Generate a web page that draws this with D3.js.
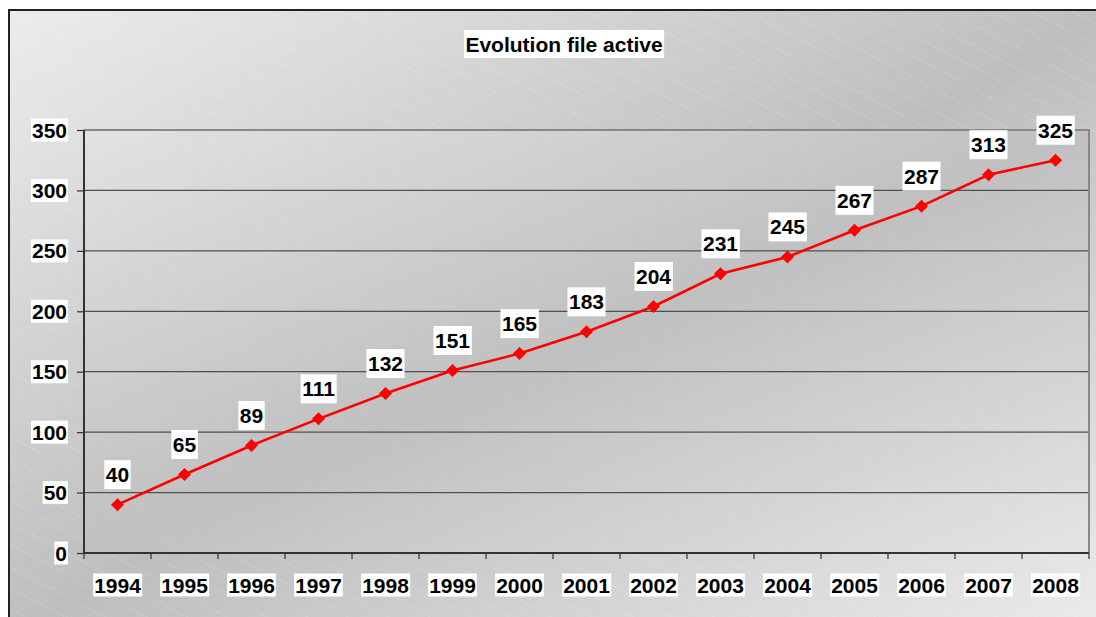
<!DOCTYPE html>
<html>
<head>
<meta charset="utf-8">
<script src="https://cdn.jsdelivr.net/npm/d3@7"></script>
<style>
  html, body { margin: 0; padding: 0; background: #ffffff; }
  svg { display: block; }
  text { font-family: "Liberation Sans", Arial, sans-serif; font-weight: bold; fill: #000; }
</style>
</head>
<body>
<svg id="chart" width="1096" height="617"></svg>
<script>
// Active files per year
const years = ['1994','1995','1996','1997','1998','1999','2000','2001','2002','2003','2004','2005','2006','2007','2008'];
const activeFiles = [40, 65, 89, 111, 132, 151, 165, 183, 204, 231, 245, 267, 287, 313, 325];
const yTickValues = [0, 50, 100, 150, 200, 250, 300, 350];
const chartTitle = 'Evolution file active';

const svg = d3.select('#chart');
const W = 1096, H = 617;
const plot = { left: 84, top: 130, right: 1089, bottom: 553 };

const defs = svg.append('defs');

// Diagonal grey gradients (light corners, darker middle band)
function diagGradient(id, a, b, c) {
  const g = defs.append('linearGradient').attr('id', id)
    .attr('x1', 0).attr('y1', 0).attr('x2', 1).attr('y2', 1);
  g.append('stop').attr('offset', 0).attr('stop-color', a);
  g.append('stop').attr('offset', 0.5).attr('stop-color', b);
  g.append('stop').attr('offset', 1).attr('stop-color', c);
}
diagGradient('outerGrad', '#ececec', '#bebebe', '#ececec');
diagGradient('plotGrad', '#e2e2e2', '#c0c0c0', '#e4e4e4');

// Fine dashed diagonal texture
const pat = defs.append('pattern').attr('id', 'stripes')
  .attr('patternUnits', 'userSpaceOnUse')
  .attr('width', 40).attr('height', 19)
  .attr('patternTransform', 'rotate(28)');
pat.append('line').attr('x1', 0).attr('y1', 1).attr('x2', 40).attr('y2', 1)
  .attr('stroke', '#ffffff').attr('stroke-width', 1)
  .attr('stroke-dasharray', '1.5 2').attr('stroke-opacity', 0.28);

// Chart area background and frame
svg.append('rect').attr('x', 9).attr('y', 10).attr('width', W + 10).attr('height', H + 10)
  .attr('fill', 'url(#outerGrad)');
svg.append('rect').attr('x', 9).attr('y', 10).attr('width', W + 10).attr('height', H + 10)
  .attr('fill', 'url(#stripes)');
svg.append('rect').attr('x', 9).attr('y', 10).attr('width', W + 10).attr('height', H + 10)
  .attr('fill', 'none').attr('stroke', '#222').attr('stroke-width', 2);

// Scales
const x = d3.scaleBand().domain(years).range([plot.left, plot.right]).padding(0);
const y = d3.scaleLinear().domain([0, 350]).range([plot.bottom, plot.top]);

// Plot area
svg.append('rect').attr('x', plot.left).attr('y', plot.top)
  .attr('width', plot.right - plot.left).attr('height', plot.bottom - plot.top)
  .attr('fill', 'url(#plotGrad)');
svg.append('rect').attr('x', plot.left).attr('y', plot.top)
  .attr('width', plot.right - plot.left).attr('height', plot.bottom - plot.top)
  .attr('fill', 'url(#stripes)').attr('opacity', 0.3);

// Horizontal gridlines
svg.append('g').selectAll('line')
  .data(yTickValues.filter(v => v > 0 && v < 350))
  .join('line')
  .attr('x1', plot.left).attr('x2', plot.right)
  .attr('y1', d => y(d)).attr('y2', d => y(d))
  .attr('stroke', '#505050').attr('stroke-width', 1.3);

// Plot frame (top and right)
svg.append('path')
  .attr('d', `M${plot.left},${y(350)}H${plot.right}V${plot.bottom}`)
  .attr('fill', 'none').attr('stroke', '#888').attr('stroke-width', 2);

// Axes
const yAxis = d3.axisLeft(y).tickValues(yTickValues).tickSize(7).tickFormat('');
const gy = svg.append('g').attr('transform', `translate(${plot.left},0)`).call(yAxis);
gy.select('.domain').attr('stroke', '#333').attr('stroke-width', 2).attr('d', `M0,${plot.top}V${plot.bottom}`);
gy.selectAll('.tick line').attr('stroke', '#333').attr('stroke-width', 1.2);

const gx = svg.append('g').attr('transform', `translate(0,${plot.bottom})`);
gx.append('line').attr('x1', plot.left).attr('x2', plot.right)
  .attr('stroke', '#333').attr('stroke-width', 2);
const bounds = years.map(d => x(d)).concat([x(years[years.length - 1]) + x.bandwidth()]);
gx.selectAll('line.tk').data(bounds).join('line').attr('class', 'tk')
  .attr('x1', d => d).attr('x2', d => d).attr('y1', 0).attr('y2', 6)
  .attr('stroke', '#333').attr('stroke-width', 1.2);

// Text with a white box behind it
function boxedText(g, tx, ty, str, size, anchor, padX, padY) {
  const grp = g.append('g');
  const t = grp.append('text').attr('x', tx).attr('y', ty)
    .attr('text-anchor', anchor).attr('dominant-baseline', 'central')
    .style('font-size', size + 'px').text(str);
  const b = t.node().getBBox();
  grp.insert('rect', 'text')
    .attr('x', b.x - padX).attr('y', b.y - padY)
    .attr('width', b.width + 2 * padX).attr('height', b.height + 2 * padY)
    .attr('fill', '#ffffff');
}

const labels = svg.append('g');
yTickValues.forEach(v => boxedText(labels, 67, y(v), String(v), 21, 'end', 1, 0));
years.forEach(yr => boxedText(labels, x(yr) + x.bandwidth() / 2, 585, yr, 21, 'middle', 1, 0));

// Title
boxedText(labels, 564, 44, chartTitle, 21, 'middle', 1.5, 2.5);

// Series line
const line = d3.line()
  .x((d, i) => x(years[i]) + x.bandwidth() / 2)
  .y(d => y(d));
svg.append('path').datum(activeFiles)
  .attr('d', line).attr('fill', 'none')
  .attr('stroke', '#ff0000').attr('stroke-width', 2.6);

// Diamond markers
const r = 6.5;
svg.append('g').selectAll('path')
  .data(activeFiles)
  .join('path')
  .attr('transform', (d, i) => `translate(${x(years[i]) + x.bandwidth() / 2},${y(d)})`)
  .attr('d', `M0,${-r}L${r},0L0,${r}L${-r},0Z`)
  .attr('fill', '#ff0000');

// Value labels
const vl = svg.append('g');
activeFiles.forEach((v, i) => {
  boxedText(vl, x(years[i]) + x.bandwidth() / 2, y(v) - 30, String(v), 21, 'middle', 1.5, 3);
});
</script>
</body>
</html>
